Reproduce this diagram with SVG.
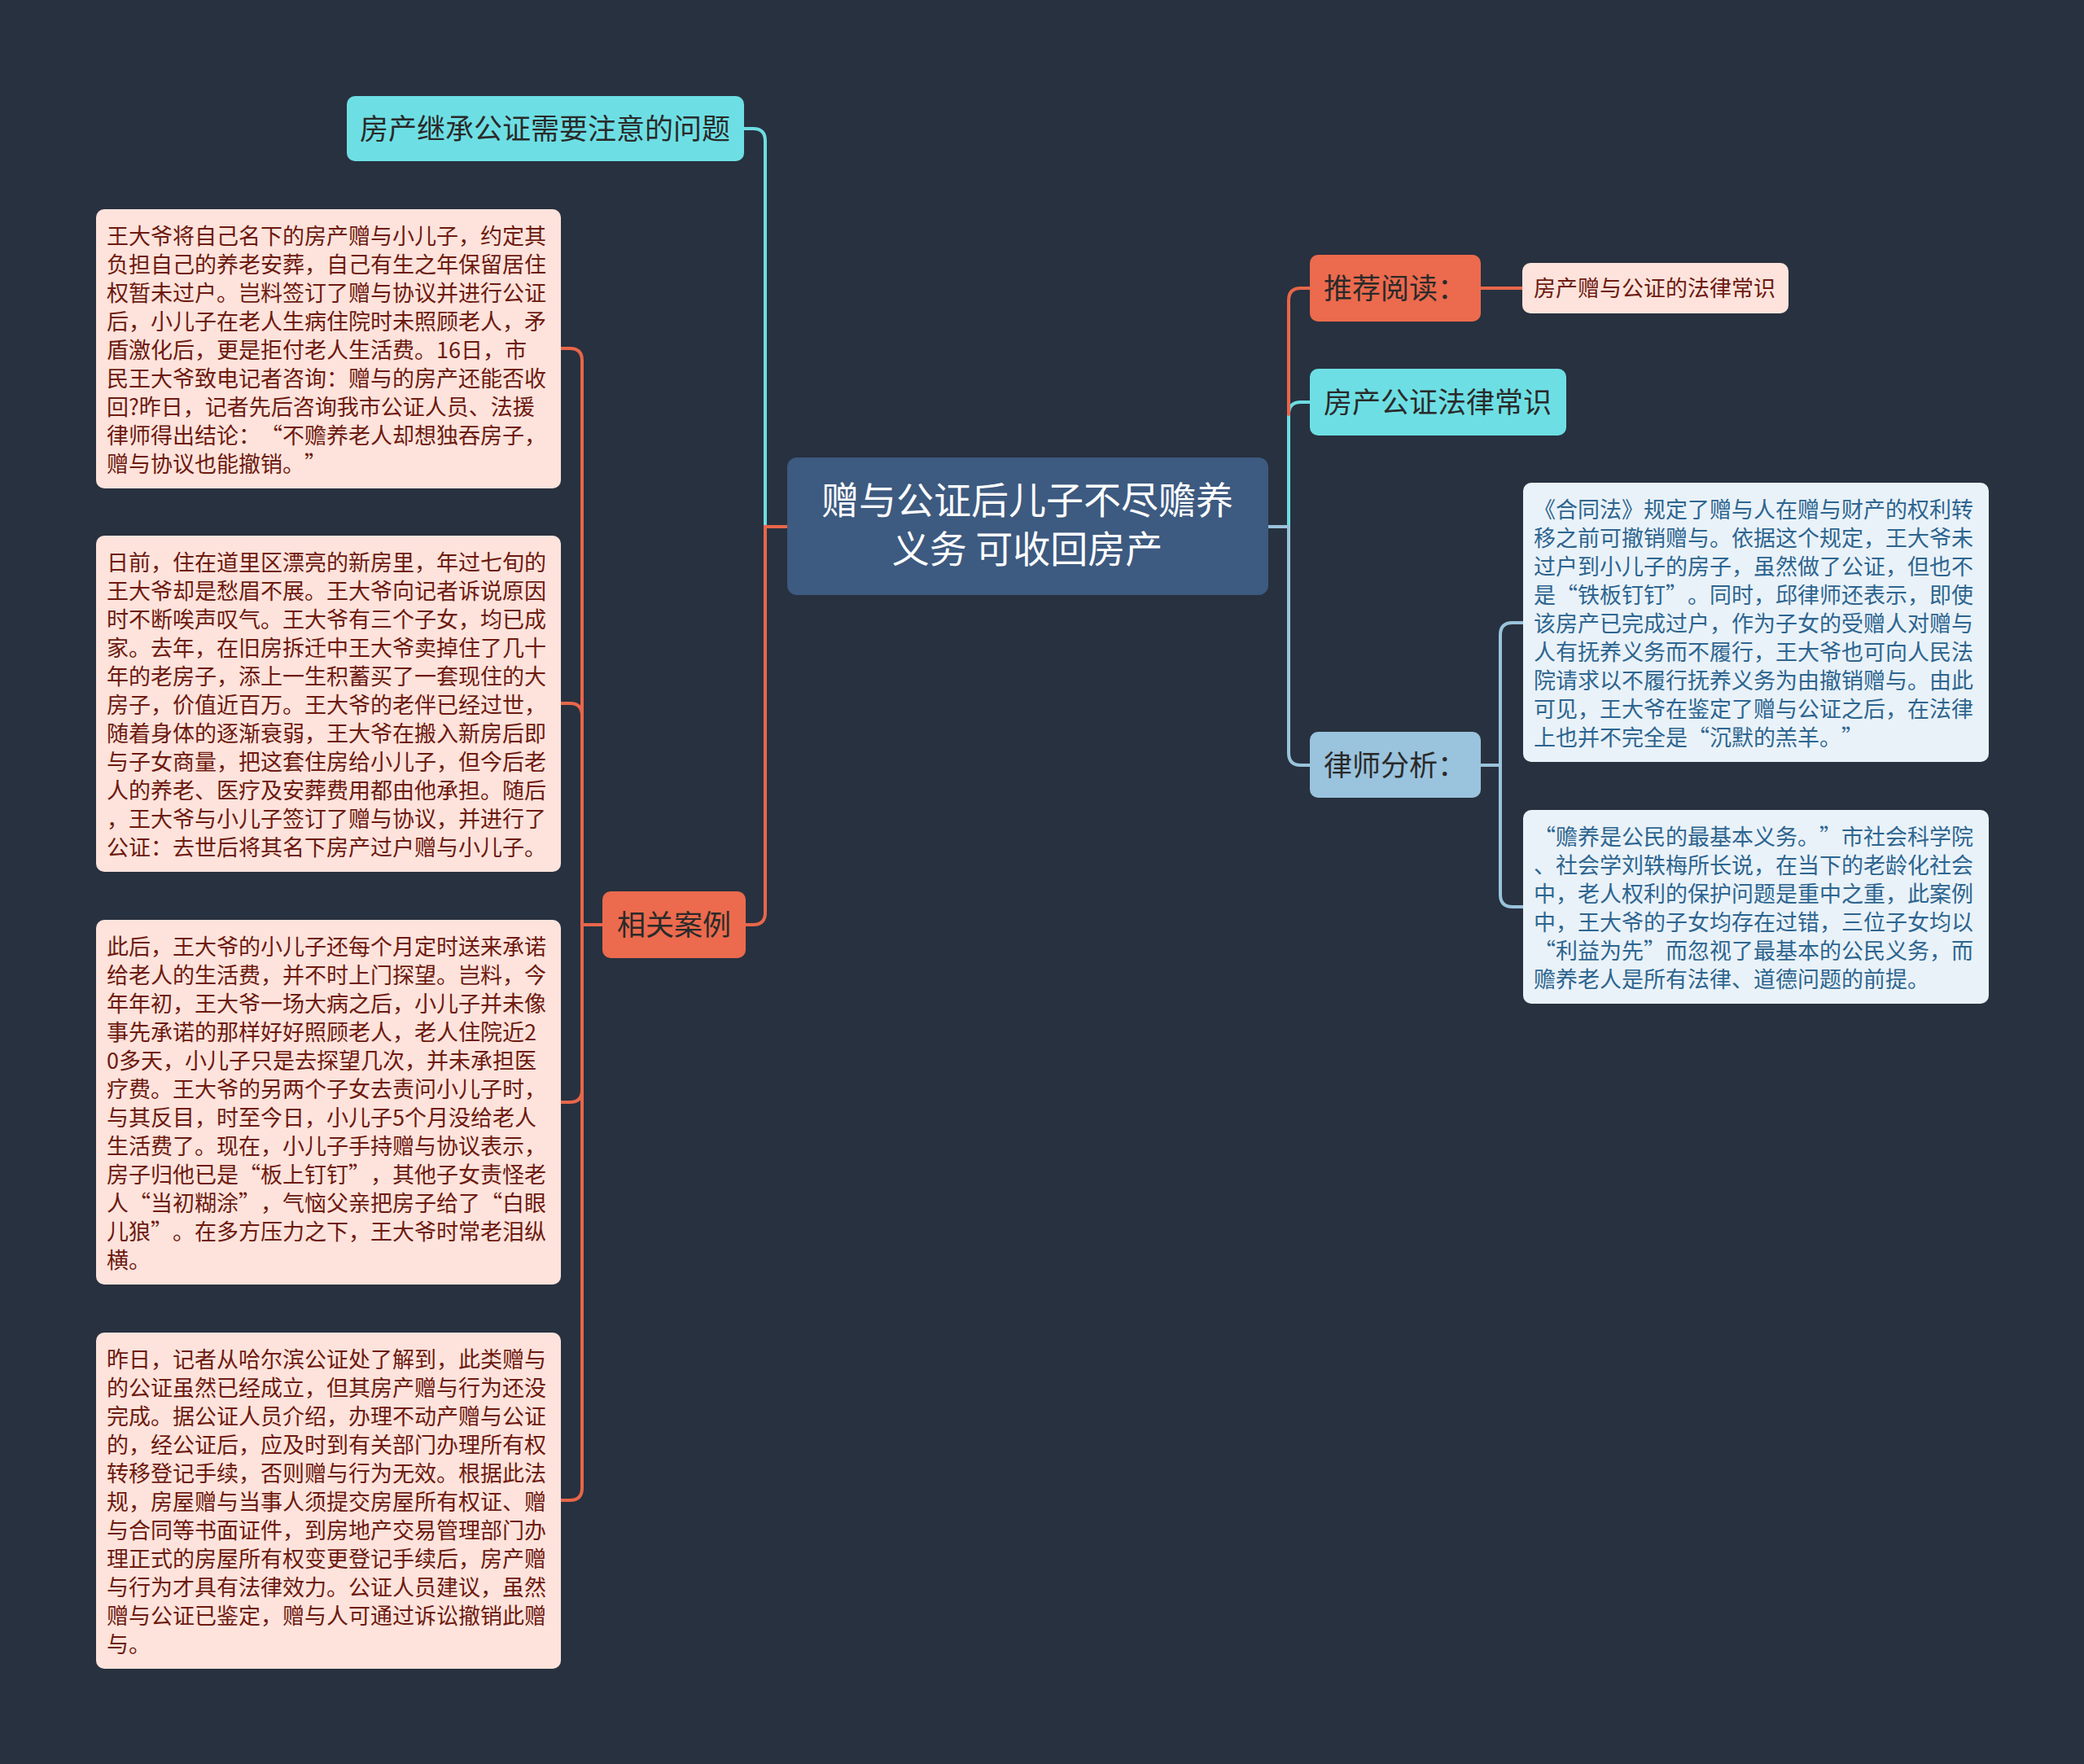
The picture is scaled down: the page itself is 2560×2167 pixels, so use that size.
<svg xmlns="http://www.w3.org/2000/svg" width="2560" height="2167" viewBox="0 0 2560 2167">
<style>
text{font-family:"Noto Sans CJK SC","Noto Sans",sans-serif;}
.bg{fill:#28313f;}
.leafL{fill:#fde3dc;}
.leafR{fill:#e9f2f8;}
.tL{font-size:27px;fill:#6e1a10;}
.tR{font-size:27px;fill:#2e6590;}
.cyan{fill:#6ddfe4;}
.orange{fill:#ec6a4d;}
.blue{fill:#9ac3dd;}
.center{fill:#3d5a80;}
.tB{font-size:35px;fill:#2a2a2a;}
.tC{font-size:46px;fill:#ffffff;text-anchor:middle;}
.q{text-anchor:end;}
.c{fill:none;stroke-width:4;stroke-linecap:round;}
.co{stroke:#e8664a;}
.cc{stroke:#6ddde3;}
.cb{stroke:#9ac3dc;}
</style>
<rect class="bg" x="0" y="0" width="2560" height="2167"/>
<g id="connectors">
<path class="c cc" d="M967 647 H940 V173 Q940 158 925 158 H914"/>
<path class="c co" d="M967 647 H940 V1121 Q940 1136 925 1136 H916"/>
<path class="c co" d="M740 1136 H715"/>
<path class="c co" d="M715 1136 V443 Q715 428 700 428 H689"/>
<path class="c co" d="M715 1136 V879 Q715 864 700 864 H689"/>
<path class="c co" d="M715 1136 V1339 Q715 1354 700 1354 H689"/>
<path class="c co" d="M715 1136 V1828 Q715 1843 700 1843 H689"/>
<path class="c cc" d="M1558 647 H1583 V509 Q1583 494 1598 494 H1609"/>
<path class="c co" d="M1583 509 V369 Q1583 354 1598 354 H1609"/>
<path class="c cb" d="M1558 647 H1583 V925 Q1583 940 1598 940 H1609"/>
<path class="c co" d="M1819 354 H1870"/>
<path class="c cb" d="M1819 940 H1843"/>
<path class="c cb" d="M1843 940 V780 Q1843 765 1858 765 H1871"/>
<path class="c cb" d="M1843 940 V1099 Q1843 1114 1858 1114 H1871"/>
</g>
<g id="central">
<rect class="center" x="967" y="562" width="591" height="169" rx="12"/>
<text class="tC" x="1262" y="631">赠与公证后儿子不尽赡养</text>
<text class="tC" x="1262" y="691">义务 可收回房产</text>
</g>
<g id="title-node">
<rect class="cyan" x="426" y="118" width="488" height="80" rx="10"/>
<text class="tB" x="442" y="171">房产继承公证需要注意的问题</text>
</g>
<g id="cases">
<rect class="orange" x="740" y="1095" width="176" height="82" rx="10"/>
<text class="tB" x="758" y="1149">相关案例</text>
</g>
<g id="case1">
<rect class="leafL" x="118" y="257" width="571" height="343" rx="10"/>
<text class="tL" x="131" y="300">
<tspan x="131">王大爷将自己名下的房产赠与小儿子，约定其</tspan>
<tspan x="131" dy="35">负担自己的养老安葬，自己有生之年保留居住</tspan>
<tspan x="131" dy="35">权暂未过户。岂料签订了赠与协议并进行公证</tspan>
<tspan x="131" dy="35">后，小儿子在老人生病住院时未照顾老人，矛</tspan>
<tspan x="131" dy="35">盾激化后，更是拒付老人生活费。16日，市</tspan>
<tspan x="131" dy="35">民王大爷致电记者咨询：赠与的房产还能否收</tspan>
<tspan x="131" dy="35">回?昨日，记者先后咨询我市公证人员、法援</tspan>
<tspan x="131" dy="35">律师得出结论：</tspan><tspan class="q" x="347">“</tspan><tspan x="347">不赡养老人却想独吞房子，</tspan>
<tspan x="131" dy="35">赠与协议也能撤销。</tspan><tspan x="374">”</tspan>
</text>
</g>
<g id="case2">
<rect class="leafL" x="118" y="658" width="571" height="413" rx="10"/>
<text class="tL" x="131" y="701">
<tspan x="131">日前，住在道里区漂亮的新房里，年过七旬的</tspan>
<tspan x="131" dy="35">王大爷却是愁眉不展。王大爷向记者诉说原因</tspan>
<tspan x="131" dy="35">时不断唉声叹气。王大爷有三个子女，均已成</tspan>
<tspan x="131" dy="35">家。去年，在旧房拆迁中王大爷卖掉住了几十</tspan>
<tspan x="131" dy="35">年的老房子，添上一生积蓄买了一套现住的大</tspan>
<tspan x="131" dy="35">房子，价值近百万。王大爷的老伴已经过世，</tspan>
<tspan x="131" dy="35">随着身体的逐渐衰弱，王大爷在搬入新房后即</tspan>
<tspan x="131" dy="35">与子女商量，把这套住房给小儿子，但今后老</tspan>
<tspan x="131" dy="35">人的养老、医疗及安葬费用都由他承担。随后</tspan>
<tspan x="131" dy="35">，王大爷与小儿子签订了赠与协议，并进行了</tspan>
<tspan x="131" dy="35">公证：去世后将其名下房产过户赠与小儿子。</tspan>
</text>
</g>
<g id="case3">
<rect class="leafL" x="118" y="1130" width="571" height="448" rx="10"/>
<text class="tL" x="131" y="1173">
<tspan x="131">此后，王大爷的小儿子还每个月定时送来承诺</tspan>
<tspan x="131" dy="35">给老人的生活费，并不时上门探望。岂料，今</tspan>
<tspan x="131" dy="35">年年初，王大爷一场大病之后，小儿子并未像</tspan>
<tspan x="131" dy="35">事先承诺的那样好好照顾老人，老人住院近2</tspan>
<tspan x="131" dy="35">0多天，小儿子只是去探望几次，并未承担医</tspan>
<tspan x="131" dy="35">疗费。王大爷的另两个子女去责问小儿子时，</tspan>
<tspan x="131" dy="35">与其反目，时至今日，小儿子5个月没给老人</tspan>
<tspan x="131" dy="35">生活费了。现在，小儿子手持赠与协议表示，</tspan>
<tspan x="131" dy="35">房子归他已是</tspan><tspan class="q" x="320">“</tspan><tspan x="320">板上钉钉</tspan><tspan x="428">”</tspan><tspan x="455">，其他子女责怪老</tspan>
<tspan x="131" dy="35">人</tspan><tspan class="q" x="185">“</tspan><tspan x="185">当初糊涂</tspan><tspan x="293">”</tspan><tspan x="320">，气恼父亲把房子给了</tspan><tspan class="q" x="617">“</tspan><tspan x="617">白眼</tspan>
<tspan x="131" dy="35">儿狼</tspan><tspan x="185">”</tspan><tspan x="212">。在多方压力之下，王大爷时常老泪纵</tspan>
<tspan x="131" dy="35">横。</tspan>
</text>
</g>
<g id="case4">
<rect class="leafL" x="118" y="1637" width="571" height="413" rx="10"/>
<text class="tL" x="131" y="1680">
<tspan x="131">昨日，记者从哈尔滨公证处了解到，此类赠与</tspan>
<tspan x="131" dy="35">的公证虽然已经成立，但其房产赠与行为还没</tspan>
<tspan x="131" dy="35">完成。据公证人员介绍，办理不动产赠与公证</tspan>
<tspan x="131" dy="35">的，经公证后，应及时到有关部门办理所有权</tspan>
<tspan x="131" dy="35">转移登记手续，否则赠与行为无效。根据此法</tspan>
<tspan x="131" dy="35">规，房屋赠与当事人须提交房屋所有权证、赠</tspan>
<tspan x="131" dy="35">与合同等书面证件，到房地产交易管理部门办</tspan>
<tspan x="131" dy="35">理正式的房屋所有权变更登记手续后，房产赠</tspan>
<tspan x="131" dy="35">与行为才具有法律效力。公证人员建议，虽然</tspan>
<tspan x="131" dy="35">赠与公证已鉴定，赠与人可通过诉讼撤销此赠</tspan>
<tspan x="131" dy="35">与。</tspan>
</text>
</g>
<g id="recommend">
<rect class="orange" x="1609" y="313" width="210" height="82" rx="10"/>
<text class="tB" x="1626" y="367">推荐阅读：</text>
</g>
<g id="recommend-leaf">
<rect class="leafL" x="1870" y="323" width="327" height="62" rx="10"/>
<text class="tL" x="1884" y="364">房产赠与公证的法律常识</text>
</g>
<g id="law-knowledge">
<rect class="cyan" x="1609" y="453" width="315" height="82" rx="10"/>
<text class="tB" x="1626" y="507">房产公证法律常识</text>
</g>
<g id="lawyer">
<rect class="blue" x="1609" y="899" width="210" height="81" rx="10"/>
<text class="tB" x="1626" y="953">律师分析：</text>
</g>
<g id="analysis1">
<rect class="leafR" x="1871" y="593" width="572" height="343" rx="10"/>
<text class="tR" x="1884" y="636">
<tspan x="1884">《合同法》规定了赠与人在赠与财产的权利转</tspan>
<tspan x="1884" dy="35">移之前可撤销赠与。依据这个规定，王大爷未</tspan>
<tspan x="1884" dy="35">过户到小儿子的房子，虽然做了公证，但也不</tspan>
<tspan x="1884" dy="35">是</tspan><tspan class="q" x="1938">“</tspan><tspan x="1938">铁板钉钉</tspan><tspan x="2046">”</tspan><tspan x="2073">。同时，邱律师还表示，即使</tspan>
<tspan x="1884" dy="35">该房产已完成过户，作为子女的受赠人对赠与</tspan>
<tspan x="1884" dy="35">人有抚养义务而不履行，王大爷也可向人民法</tspan>
<tspan x="1884" dy="35">院请求以不履行抚养义务为由撤销赠与。由此</tspan>
<tspan x="1884" dy="35">可见，王大爷在鉴定了赠与公证之后，在法律</tspan>
<tspan x="1884" dy="35">上也并不完全是</tspan><tspan class="q" x="2100">“</tspan><tspan x="2100">沉默的羔羊。</tspan><tspan x="2262">”</tspan>
</text>
</g>
<g id="analysis2">
<rect class="leafR" x="1871" y="995" width="572" height="238" rx="10"/>
<text class="tR" x="1884" y="1038">
<tspan class="q" x="1911">“</tspan><tspan x="1911">赡养是公民的最基本义务。</tspan><tspan x="2235">”</tspan><tspan x="2262">市社会科学院</tspan>
<tspan x="1884" dy="35">、社会学刘轶梅所长说，在当下的老龄化社会</tspan>
<tspan x="1884" dy="35">中，老人权利的保护问题是重中之重，此案例</tspan>
<tspan x="1884" dy="35">中，王大爷的子女均存在过错，三位子女均以</tspan>
<tspan class="q" x="1911" dy="35">“</tspan><tspan x="1911">利益为先</tspan><tspan x="2019">”</tspan><tspan x="2046">而忽视了最基本的公民义务，而</tspan>
<tspan x="1884" dy="35">赡养老人是所有法律、道德问题的前提。</tspan>
</text>
</g>
</svg>
